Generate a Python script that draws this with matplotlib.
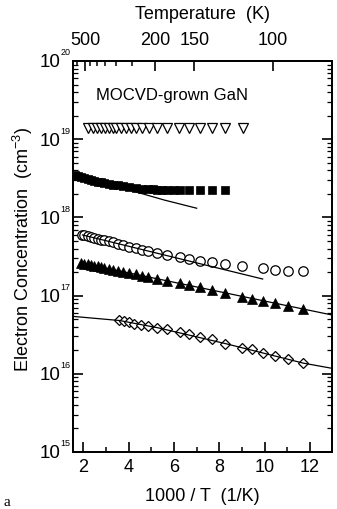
import matplotlib
matplotlib.use("Agg")
import matplotlib.pyplot as plt
import matplotlib.transforms as mtransforms
from matplotlib import font_manager
from matplotlib.ticker import FixedLocator, NullFormatter, LogLocator
import numpy as np

def have(name):
    try:
        font_manager.findfont(name, fallback_to_default=False)
        return True
    except Exception:
        return False

SANS = "Liberation Sans"
NARROW = "Liberation Sans Narrow" if have("Liberation Sans Narrow") else SANS
plt.rcParams['font.family'] = [SANS, 'DejaVu Sans']
plt.rcParams['mathtext.fontset'] = 'custom'
plt.rcParams['mathtext.rm'] = SANS
plt.rcParams['mathtext.it'] = SANS

# ---------------- data (x = 1000/T in 1/K, y = electron concentration in cm^-3) -------------
# open inverted triangles
x_tri_open = [2.19, 2.41, 2.60, 2.78, 2.95, 3.11, 3.29, 3.46, 3.65, 3.87, 4.09, 4.34,
              4.60, 4.90, 5.27, 5.71, 6.22, 6.66, 7.13, 7.66, 8.27, 9.05]
n_tri_open = [1.39e19, 1.39e19, 1.39e19, 1.39e19, 1.39e19, 1.39e19, 1.39e19, 1.39e19,
              1.39e19, 1.39e19, 1.39e19, 1.39e19, 1.39e19, 1.39e19, 1.39e19, 1.39e19,
              1.39e19, 1.39e19, 1.39e19, 1.39e19, 1.39e19, 1.39e19]

# filled squares
x_sq = [1.62, 1.75, 1.90, 2.04, 2.19, 2.34, 2.48, 2.63, 2.78, 2.92, 3.11, 3.29, 3.51,
        3.73, 4.02, 4.30, 4.58, 4.87, 5.07, 5.27, 5.49, 5.71, 5.98, 6.25, 6.66, 7.13,
        7.66, 8.27]
n_sq = [3.48e18, 3.36e18, 3.25e18, 3.16e18, 3.07e18, 2.99e18, 2.92e18, 2.86e18, 2.80e18,
        2.74e18, 2.68e18, 2.62e18, 2.56e18, 2.52e18, 2.45e18, 2.40e18, 2.34e18, 2.30e18,
        2.28e18, 2.27e18, 2.26e18, 2.26e18, 2.26e18, 2.26e18, 2.26e18, 2.26e18, 2.26e18,
        2.26e18]
x_sq_fit = [1.60, 3.00, 4.00, 5.56, 7.00]
n_sq_fit = [3.50e18, 2.70e18, 2.25e18, 1.67e18, 1.31e18]

# open circles
x_circ = [1.96, 2.04, 2.19, 2.34, 2.48, 2.63, 2.78, 2.92, 3.11, 3.29, 3.51, 3.73, 4.02,
          4.30, 4.58, 4.87, 5.27, 5.71, 6.25, 6.66, 7.13, 7.66, 8.27, 9.00, 9.91, 10.44,
          11.02, 11.68]
n_circ = [5.96e17, 5.88e17, 5.73e17, 5.59e17, 5.47e17, 5.34e17, 5.21e17, 5.09e17, 4.92e17,
          4.78e17, 4.61e17, 4.45e17, 4.24e17, 4.05e17, 3.86e17, 3.68e17, 3.47e17, 3.31e17,
          3.09e17, 2.91e17, 2.77e17, 2.67e17, 2.54e17, 2.37e17, 2.24e17, 2.14e17, 2.08e17,
          2.05e17]
x_circ_fit = [1.96, 9.91]
n_circ_fit = [5.96e17, 1.63e17]

# filled triangles
x_tri = [1.90, 2.04, 2.19, 2.34, 2.48, 2.63, 2.78, 2.92, 3.11, 3.29, 3.51, 3.73, 4.02,
         4.30, 4.58, 4.87, 5.27, 5.71, 6.25, 6.66, 7.13, 7.66, 8.27, 9.00, 9.44, 9.91,
         10.44, 11.02, 11.68]
n_tri = [2.61e17, 2.56e17, 2.51e17, 2.46e17, 2.41e17, 2.36e17, 2.31e17, 2.27e17, 2.21e17,
         2.15e17, 2.09e17, 2.03e17, 1.95e17, 1.87e17, 1.80e17, 1.73e17, 1.64e17, 1.54e17,
         1.43e17, 1.35e17, 1.27e17, 1.18e17, 1.08e17, 0.95e17, 0.90e17, 0.86e17, 0.81e17,
         0.74e17, 0.675e17]
x_tri_fit = [1.90, 12.97]
n_tri_fit = [2.61e17, 0.565e17]

# open diamonds
x_dia = [3.58, 3.80, 4.02, 4.24, 4.54, 4.87, 5.27, 5.71, 6.25, 6.66, 7.13, 7.66, 8.27,
         9.00, 9.44, 9.91, 10.44, 11.02, 11.68]
n_dia = [4.88e16, 4.69e16, 4.56e16, 4.38e16, 4.21e16, 4.05e16, 3.89e16, 3.71e16, 3.40e16,
         3.20e16, 2.98e16, 2.76e16, 2.43e16, 2.16e16, 2.06e16, 1.86e16, 1.70e16, 1.55e16,
         1.37e16]
x_dia_fit = [1.52, 3.60, 5.30, 8.30, 11.70, 12.97]
n_dia_fit = [5.43e16, 4.80e16, 3.87e16, 2.42e16, 1.37e16, 1.175e16]

# axes / labels
x_major = [2, 4, 6, 8, 10, 12]
x_minor = [3, 5, 7, 9, 11, 13]
y_decades = [15, 16, 17, 18, 19, 20]
top_T_major = [500, 200, 150, 100]
top_T_minor = [600, 450, 400, 350, 300, 250]
top_scale = 1035.0   # position of temperature T on the 1000/T axis as drawn in the figure

# ---------------- figure ----------------
W, H = 337, 510
fig = plt.figure(figsize=(W / 100, H / 100), dpi=100)
L, R, T, B = 72.5, 332, 62, 453
ax = fig.add_axes([L / W, 1 - B / H, (R - L) / W, (B - T) / H])
ax.set_xlim(1.52, 12.97)
ax.set_yscale('log')
ax.set_ylim(1e15, 1e20)

for s in ax.spines.values():
    s.set_linewidth(1.3)

lw_fit = 0.9
mew = 0.9
ax.plot(x_tri_open, n_tri_open, linestyle='none', marker='v', ms=7.2, mfc='white',
        mec='black', mew=mew, zorder=3)
ax.plot(x_sq, n_sq, linestyle='none', marker='s', ms=6.3, mfc='black', mec='black',
        mew=0.5, zorder=3)
ax.plot(x_sq_fit, n_sq_fit, color='black', lw=lw_fit, zorder=2)
ax.plot(x_circ, n_circ, linestyle='none', marker='o', ms=6.8, mfc='white', mec='black',
        mew=mew, zorder=3)
ax.plot(x_circ_fit, n_circ_fit, color='black', lw=lw_fit, zorder=4)
ax.plot(x_tri, n_tri, linestyle='none', marker='^', ms=7.2, mfc='black', mec='black',
        mew=0.5, zorder=3)
ax.plot(x_tri_fit, n_tri_fit, color='black', lw=lw_fit, zorder=2)
ax.plot(x_dia, n_dia, linestyle='none', marker='D', ms=5.6, mfc='white', mec='black',
        mew=mew, zorder=3)
ax.plot(x_dia_fit, n_dia_fit, color='black', lw=lw_fit, zorder=4)

# bottom axis
ax.xaxis.set_major_locator(FixedLocator(x_major))
ax.xaxis.set_minor_locator(FixedLocator(x_minor))
ax.set_xticklabels([str(v) for v in x_major], fontfamily=NARROW, fontsize=13)
ax.tick_params(axis='x', which='major', direction='in', length=7, width=1.2, pad=4,
               top=False, bottom=True)
ax.tick_params(axis='x', which='minor', direction='in', length=3.5, width=1.1,
               top=False, bottom=True)
ax.set_xlabel('1000 / T  (1/K)', fontfamily=NARROW, fontsize=13, labelpad=9)

# left / right log axis
ax.yaxis.set_major_locator(LogLocator(base=10, numticks=10))
ax.yaxis.set_minor_locator(LogLocator(base=10, subs=np.arange(2, 10), numticks=20))
ax.yaxis.set_major_formatter(NullFormatter())
ax.yaxis.set_minor_formatter(NullFormatter())
ax.tick_params(axis='y', which='major', direction='in', length=7, width=1.2,
               left=True, right=True)
ax.tick_params(axis='y', which='minor', direction='in', length=3.5, width=0.9,
               left=True, right=True)

ytrans = mtransforms.blended_transform_factory(ax.transAxes, ax.transData)
off_base = mtransforms.offset_copy(ytrans, fig=fig, x=-12, y=-1, units='dots')
off_sup = mtransforms.offset_copy(ytrans, fig=fig, x=-2, y=4.5, units='dots')
for d in y_decades:
    ax.text(0, 10.0 ** d, '10', transform=off_base, ha='right', va='center',
            fontsize=13.5, fontfamily=SANS)
    ax.text(0, 10.0 ** d, str(d), transform=off_sup, ha='right', va='bottom',
            fontsize=6.5, fontfamily=SANS)

ax.set_ylabel('Electron Concentration  (cm$^{-3}$)', fontsize=13)
ax.yaxis.set_label_coords(-0.145, 0.52)

# top temperature axis
ax2 = ax.twiny()
ax2.set_xlim(ax.get_xlim())
ax2.xaxis.set_major_locator(FixedLocator([top_scale / t for t in top_T_major]))
ax2.xaxis.set_minor_locator(FixedLocator([top_scale / t for t in top_T_minor]))
ax2.set_xticklabels([str(t) for t in top_T_major], fontfamily=NARROW, fontsize=13)
ax2.tick_params(axis='x', which='major', direction='in', length=7, width=1.2, pad=9)
ax2.tick_params(axis='x', which='minor', direction='in', length=3.5, width=1.1)
ax2.set_xlabel('Temperature  (K)', fontfamily=NARROW, fontsize=13, labelpad=9.5)
for s in ax2.spines.values():
    s.set_linewidth(1.3)

ax.text(0.09, 0.9156, 'MOCVD-grown GaN', transform=ax.transAxes, fontsize=12,
        ha='left', va='center')
fig.text(4 / W, 1 - 503 / H, 'a', fontsize=11, fontfamily='Liberation Serif',
         ha='left', va='center')

fig.savefig('out.png', dpi=100)
